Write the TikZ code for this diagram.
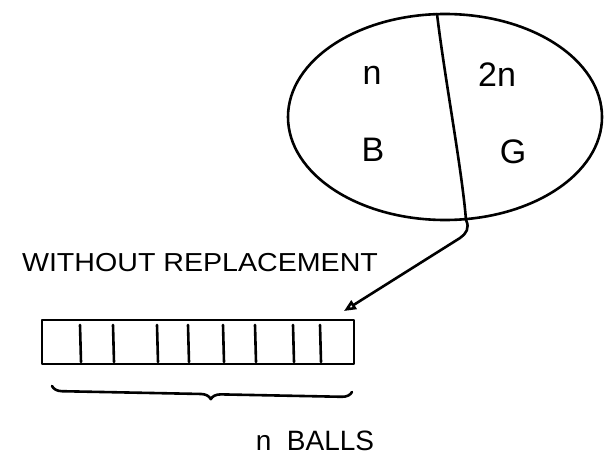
\documentclass[tikz,border=0pt]{standalone}
\usepackage{fontspec}
\setmainfont{Liberation Sans}
\usetikzlibrary{shapes.geometric,arrows.meta,decorations.pathreplacing}
\tikzset{
  ink/.style={line width=2.6pt, line cap=round, line join=round},
  lbl/.style={font=\fontsize{34}{36}\selectfont, inner sep=0pt},
  captext/.style={font=\fontsize{26}{28}\selectfont, inner sep=0pt, xscale=1.1, transform shape},
}
\begin{document}
\begin{tikzpicture}[x=1pt,y=-1pt]
\useasboundingbox (0,0) rectangle (612,473);
% urn
\node[ink, draw, ellipse, minimum width=314pt, minimum height=206pt] (pool) at (445,117) {};
\coordinate (dtop) at (437,14);
\coordinate (dbot) at (466,220);
\draw[ink] (dtop) .. controls (445,80) and (462,170) .. (dbot);
\node[lbl] (n1) at (372,75) {n};
\node[lbl] (n2) at (497,75) {2n};
\node[lbl] (B) at (373,150) {B};
\node[lbl] (G) at (513,152) {G};
% sample row
\node[ink, draw, minimum width=312pt, minimum height=44pt, inner sep=0pt] (bar) at (198,342) {};
\foreach \xx in {80,113,157,188,223,255,293,320}
  \draw[ink] (\xx,325) -- (\xx+1,362);
\coordinate (tip) at (344,311);
\draw[ink, -{Triangle[open, length=12pt, width=10pt]}] (dbot) .. controls (470,228) and (466,234) .. (460,238) -- (tip);
% caption
\node[captext] (wr) at (200,263) {WITHOUT REPLACEMENT};
\draw[ink, decorate, decoration={brace, mirror, amplitude=10pt, aspect=0.53}] (52,386) -- (352,392);
\node[lbl, font=\fontsize{28}{30}\selectfont] (balls) at (315,441) {n\ \ BALLS};
\end{tikzpicture}
\end{document}
